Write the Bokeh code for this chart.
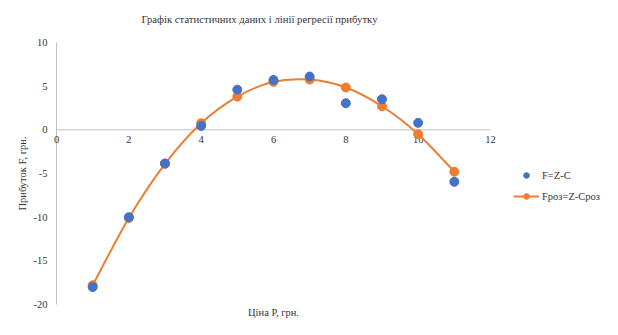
from bokeh.plotting import figure
from bokeh.models import Label, Legend, LegendItem, Range1d
from bokeh.embed import file_html
from bokeh.resources import INLINE
import numpy as np

price = [1, 2, 3, 4, 5, 6, 7, 8, 9, 10, 11]
profit_f = [-18.0, -10.0, -3.85, 0.45, 4.6, 5.7, 6.1, 3.05, 3.5, 0.8, -5.95]
profit_froz = [-17.8, -10.1, -3.9, 0.75, 3.8, 5.5, 5.75, 4.85, 2.7, -0.5, -4.8]

title_text = "Графік статистичних даних і лінії регресії прибутку"
x_label = "Ціна Р, грн."
y_label = "Прибуток F, грн."
x_ticks = [0, 2, 4, 6, 8, 10, 12]
y_ticks = [-20, -15, -10, -5, 0, 5, 10]

FONT = "Liberation Serif"
BLUE = "#4472C4"
ORANGE = "#ED7D31"
AXIS = "#BFBFBF"
TXT = "#333333"
FS = "10.5px"

W, H = 618, 335
L, R, T, B = 56, 490, 42, 304
XMIN, XMAX = x_ticks[0], x_ticks[-1]
YMIN, YMAX = y_ticks[0], y_ticks[-1]
sx = (XMAX - XMIN) / (R - L)
sy = (YMAX - YMIN) / (B - T)
xr = Range1d(XMIN - L * sx, XMAX + (W - R) * sx)
yr = Range1d(YMIN - (H - B) * sy, YMAX + T * sy)

p = figure(width=W, height=H, output_backend="svg", toolbar_location=None,
           x_range=xr, y_range=yr, min_border=0)
p.axis.visible = False
p.outline_line_color = None
p.grid.grid_line_color = None
p.background_fill_color = "white"
p.border_fill_color = "white"

p.segment(x0=[XMIN, XMIN], y0=[0, YMIN], x1=[XMAX, XMIN], y1=[0, YMAX],
          line_color=AXIS, line_width=1)
p.text(x=x_ticks, y=[0] * len(x_ticks), text=[str(t) for t in x_ticks],
       text_font={"value": FONT}, text_font_size=FS,
       text_color=TXT, text_align="center", text_baseline="top", y_offset=6)
p.text(x=[XMIN] * len(y_ticks), y=y_ticks, text=[str(t) for t in y_ticks],
       text_font={"value": FONT}, text_font_size=FS,
       text_color=TXT, text_align="right", text_baseline="middle", x_offset=-9)

xs = np.array(price, dtype=float)
ys = np.array(profit_froz, dtype=float)
xp = np.concatenate([[xs[0]], xs, [xs[-1]]])
yp = np.concatenate([[ys[0]], ys, [ys[-1]]])
n = len(xs)
x0 = xs[:-1]; y0 = ys[:-1]; x1 = xs[1:]; y1 = ys[1:]
cx0 = x0 + (xp[2:n + 1] - xp[0:n - 1]) / 6.0
cy0 = y0 + (yp[2:n + 1] - yp[0:n - 1]) / 6.0
cx1 = x1 - (xp[3:n + 2] - xp[1:n]) / 6.0
cy1 = y1 - (yp[3:n + 2] - yp[1:n]) / 6.0
p.bezier(x0=x0, y0=y0, x1=x1, y1=y1, cx0=cx0, cy0=cy0, cx1=cx1, cy1=cy1,
         line_color=ORANGE, line_width=2)
r_or = p.scatter(price, profit_froz, size=9, fill_color=ORANGE, line_color=ORANGE)
r_line_leg = p.line([np.nan], [np.nan], line_color=ORANGE, line_width=2)
r_bl = p.scatter(price, profit_f, size=9, fill_color=BLUE, line_color=BLUE)

legend = Legend(items=[LegendItem(label="F=Z-C", renderers=[r_bl]),
                       LegendItem(label="Fроз=Z-Cроз", renderers=[r_line_leg, r_or])],
                location=(513, 132), orientation="vertical",
                background_fill_alpha=0, border_line_color=None,
                label_text_font=FONT, label_text_font_size=FS, label_text_color=TXT,
                glyph_width=26, glyph_height=14, label_standoff=3, spacing=7,
                padding=4, margin=0)
p.add_layout(legend, "center")

title = Label(x=(XMIN + XMAX) / 2 - 14 * sx, y=YMAX + 24 * sy, text=title_text,
              text_font=FONT, text_font_size="10.7px", text_color=TXT, text_align="center",
              text_baseline="middle")
xl = Label(x=(XMIN + XMAX) / 2, y=YMIN - 8 * sy, text=x_label,
           text_font=FONT, text_font_size=FS, text_color=TXT, text_align="center",
           text_baseline="middle")
yl = Label(x=XMIN - 34 * sx, y=(YMIN + YMAX) / 2, text=y_label, angle=np.pi / 2,
           text_font=FONT, text_font_size=FS, text_color=TXT, text_align="center",
           text_baseline="middle")
p.add_layout(title)
p.add_layout(xl)
p.add_layout(yl)

open("out.html", "w").write(file_html(p, INLINE))
